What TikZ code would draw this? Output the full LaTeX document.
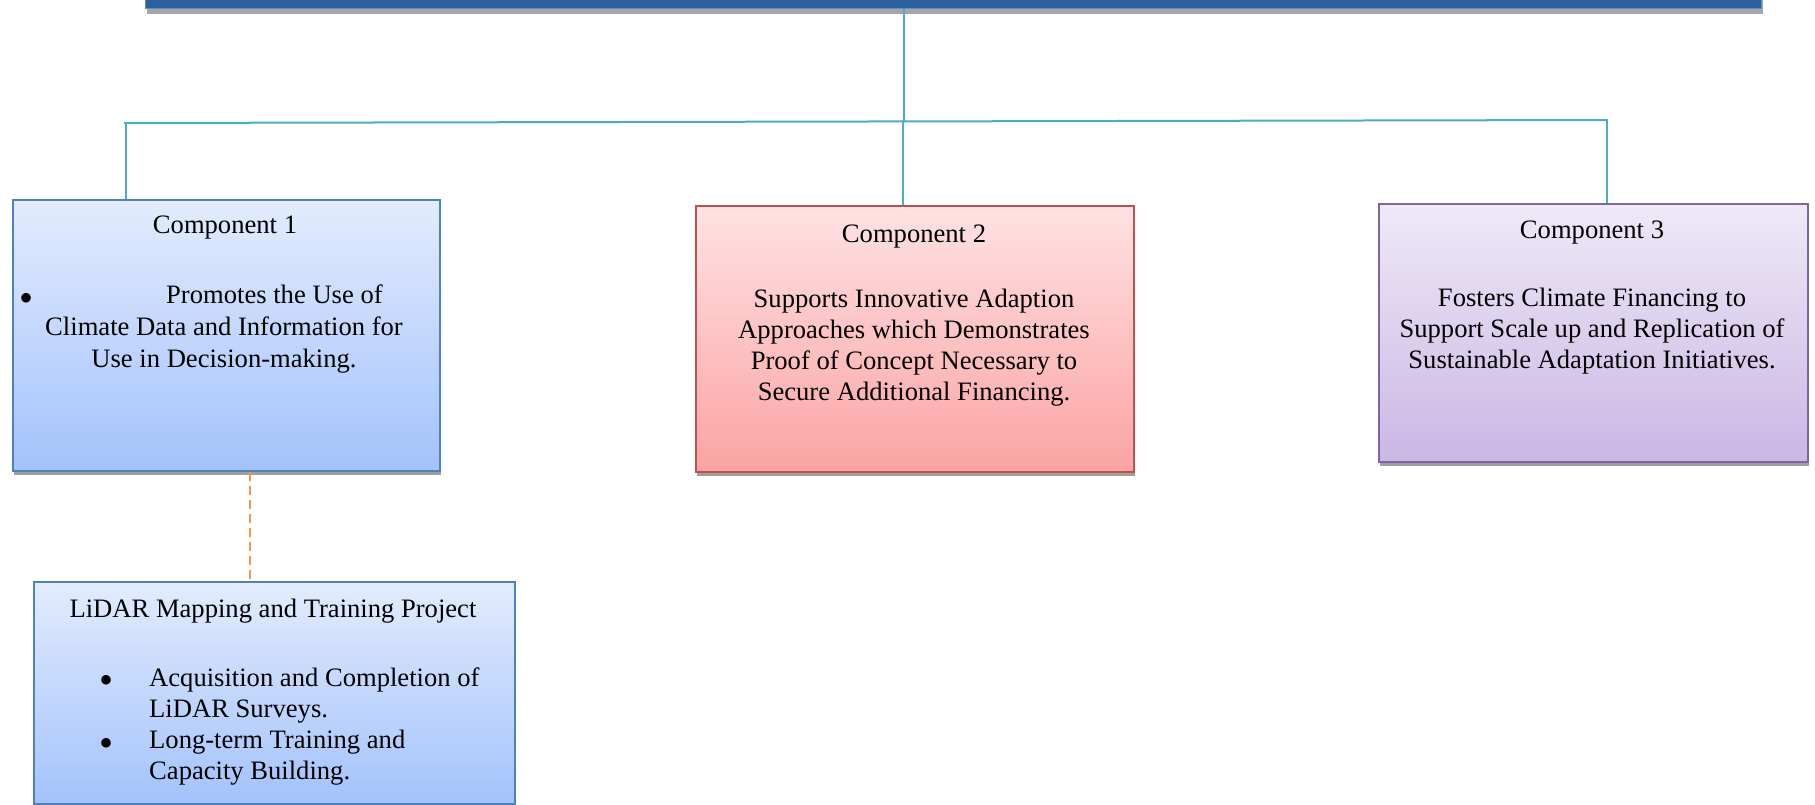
\documentclass[tikz,border=0pt]{standalone}
\usepackage{fontspec}
\setmainfont{Liberation Serif}
\usetikzlibrary{shadows}
\definecolor{connc}{HTML}{4BACC6}
\definecolor{dashc}{HTML}{F79646}
\definecolor{barc}{HTML}{2C5F9D}
\definecolor{barline}{HTML}{5B8BD0}
\definecolor{bluetop}{HTML}{E2ECFD}
\definecolor{bluebot}{HTML}{A3C2FB}
\definecolor{blueline}{HTML}{4F81BD}
\definecolor{redtop}{HTML}{FEE2E3}
\definecolor{redbot}{HTML}{FBA3A3}
\definecolor{redline}{HTML}{C0504D}
\definecolor{purtop}{HTML}{EEE9F7}
\definecolor{purbot}{HTML}{CAB7E4}
\definecolor{purline}{HTML}{8064A2}
\begin{document}
\begin{tikzpicture}[x=1pt,y=-1pt,
  box/.style={rectangle, inner sep=0pt, line width=1.8pt, anchor=north west,
    drop shadow={shadow xshift=1.5pt, shadow yshift=-4pt, fill=black!38, opacity=1}},
  bluebox/.style={box, draw=blueline, top color=bluetop, bottom color=bluebot},
  redbox/.style={box, draw=redline, top color=redtop, bottom color=redbot},
  purbox/.style={box, draw=purline, top color=purtop, bottom color=purbot},
  txt/.style={anchor=base, inner sep=0pt, font=\fontsize{26.6}{30.6}\selectfont},
  txtl/.style={txt, anchor=base west},
  bul/.style={anchor=center, inner sep=0pt, font=\fontsize{40}{40}\selectfont},
  conn/.style={draw=connc, line width=2pt},
  dashconn/.style={draw=dashc, line width=2.4pt, dash pattern=on 9pt off 5pt}]
\useasboundingbox (0,0) rectangle (1815,804);
\clip (0,0) rectangle (1815,804);
\fill[white] (0,0) rectangle (1815,804);

% top bar (mostly cut off)
\node[box, draw=barline, fill=barc, line width=1.4pt, minimum width=1616pt, minimum height=60pt,
  drop shadow={shadow xshift=1pt, shadow yshift=-5pt, fill=black!35, opacity=1}] (bar) at (145,-52) {};

% boxes
\node[bluebox, minimum width=427pt, minimum height=271pt] (c1) at (12,199) {};
\node[redbox, minimum width=438pt, minimum height=266pt] (c2) at (695,205) {};
\node[purbox, minimum width=429pt, minimum height=258pt] (c3) at (1378,203) {};
\node[bluebox, minimum width=481pt, minimum height=222pt] (lidar) at (33,581) {};

% connector points
\coordinate (top) at (904,122);
\coordinate (hl) at (124,123);
\coordinate (hr) at (1608,120);
\coordinate (j1) at (126,123);
\coordinate (j2) at (903,122);
\coordinate (j3) at (1607,120);
\coordinate (d1) at (250,470);

\draw[conn] (bar.south -| top) -- (top);
\draw[conn] (hl) -- (hr);
\draw[conn] (j1) -- (j1 |- c1.north);
\draw[conn] (j2) -- (j2 |- c2.north);
\draw[conn] (j3) -- (j3 |- c3.north);
\draw[dashconn] (d1 |- c1.south) -- (d1 |- lidar.north);

% texts component 1
\node[txt] (t1a) at (225,233) {Component 1};
\node[bul] (t1b) at (27,302) {•};
\node[txtl] (t1c) at (166,303) {Promotes the Use of};
\node[txt] (t1d) at (224,335) {Climate Data and Information for};
\node[txt] (t1e) at (224,367) {Use in Decision-making.};

% component 2
\node[txt] (t2a) at (914,242) {Component 2};
\node[txt] (t2b) at (914,307) {Supports Innovative Adaption};
\node[txt] (t2c) at (914,338) {Approaches which Demonstrates};
\node[txt] (t2d) at (914,369) {Proof of Concept Necessary to};
\node[txt] (t2e) at (914,400) {Secure Additional Financing.};

% component 3
\node[txt] (t3a) at (1592,238) {Component 3};
\node[txt] (t3b) at (1592,306) {Fosters Climate Financing to};
\node[txt] (t3c) at (1592,337) {Support Scale up and Replication of};
\node[txt] (t3d) at (1592,368) {Sustainable Adaptation Initiatives.};

% lidar
\node[txt] (t4a) at (273,617) {LiDAR Mapping and Training Project};
\node[bul] (t4b) at (107,684) {•};
\node[txtl] (t4c) at (149,686) {Acquisition and Completion of};
\node[txtl] (t4d) at (149,717) {LiDAR Surveys.};
\node[bul] (t4e) at (107,747) {•};
\node[txtl] (t4f) at (149,748) {Long-term Training and};
\node[txtl] (t4g) at (149,779) {Capacity Building.};
\end{tikzpicture}
\end{document}
